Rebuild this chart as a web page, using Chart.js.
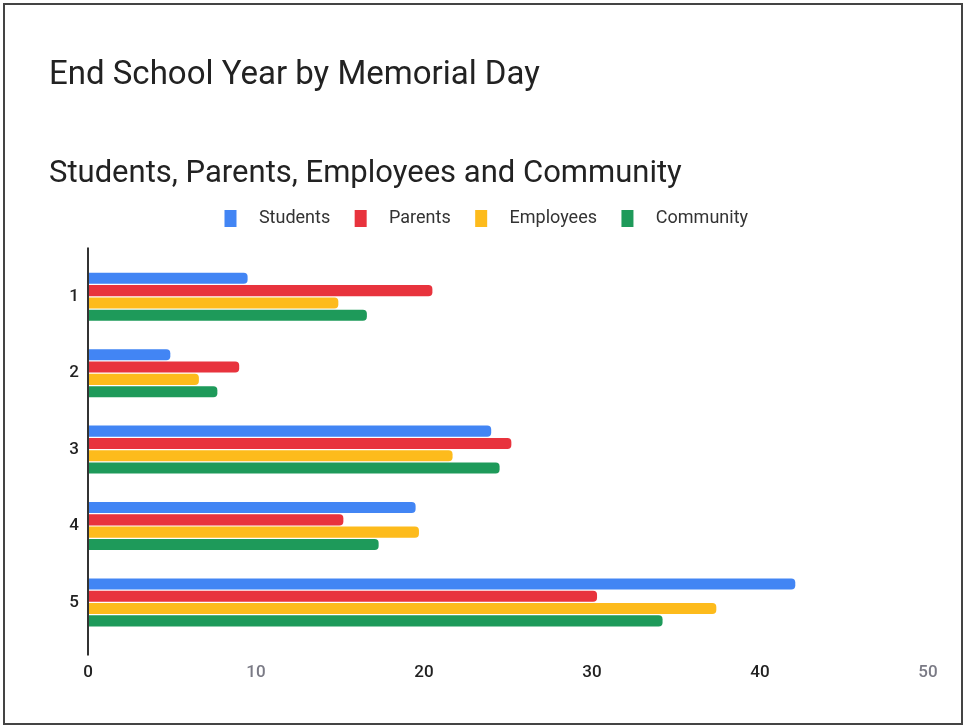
<!DOCTYPE html>
<html>
<head>
<meta charset="utf-8">
<script src="https://cdn.jsdelivr.net/npm/chart.js@4"></script>
<style>
	html, body { margin:0; padding:0; background:#fff; }
	#wrap { position:relative; width:965px; height:728px; }
	#frame { position:absolute; left:3px; top:3px; right:2px; bottom:3px; border:2px solid #444; pointer-events:none; }
</style>
</head>
<body>
<div id="wrap">
	<canvas id="myChart" width="965" height="728"></canvas>
	<div id="frame"></div>
</div>
<script>
var categories = ["1", "2", "3", "4", "5"];
var seriesNames = ["Students", "Parents", "Employees", "Community"];
var students  = [9.5, 4.9, 24.0, 19.5, 42.1];
var parents   = [20.5, 9.0, 25.2, 15.2, 30.3];
var employees = [14.9, 6.6, 21.7, 19.7, 37.4];
var community = [16.6, 7.7, 24.5, 17.3, 34.2];
var xTicks = [0, 10, 20, 30, 40, 50];
var colors = ['#4285f4', '#e8333d', '#fdbb1c', '#1e9a5a'];

// y axis line runs a bit past the plot area like in the original
var axisLine = {
	id:'axisLine',
	afterDraw:function(chart){
		var a = chart.chartArea, c = chart.ctx;
		c.save();
		c.strokeStyle = '#333';
		c.lineWidth = 2;
		c.beginPath();
		c.moveTo(a.left, a.top - 11);
		c.lineTo(a.left, a.bottom + 15);
		c.stroke();
		c.restore();
	}
};

// extra gap under the legend
var legendGap = {
	id:'legendGap',
	beforeUpdate:function(chart){
		var lg = chart.legend;
		if(lg && !lg._gap){
			var fit = lg.fit;
			lg.fit = function(){ fit.call(this); this.height += 21; };
			lg._gap = true;
		}
	}
};

var values = [students, parents, employees, community];
var datasets = seriesNames.map(function(name, i){
	return {
		label:name,
		data:values[i],
		backgroundColor:colors[i],
		borderRadius:4,
		barPercentage:0.9,
		categoryPercentage:0.645
	};
});

var ctx = document.getElementById('myChart').getContext('2d');
var chart = new Chart(ctx, {
	type:'bar',
	data:{ labels:categories, datasets:datasets },
	plugins:[axisLine, legendGap],
	options:{
		indexAxis:'y',
		responsive:false,
		animation:false,
		layout:{ padding:{ left:49, right:37, top:0, bottom:23 } },
		plugins:{
			title:{
				display:true,
				text:'End School Year by Memorial Day',
				align:'start',
				color:'#222',
				font:{ family:'Roboto', size:33, weight:'normal', lineHeight:1.2 },
				padding:{ top:56, bottom:40 }
			},
			subtitle:{
				display:true,
				text:'Students, Parents, Employees and Community',
				align:'start',
				color:'#222',
				font:{ family:'Roboto', size:31, weight:'normal', lineHeight:1 },
				padding:{ top:23, bottom:0 }
			},
			legend:{
				labels:{
					boxWidth:12,
					boxHeight:17,
					padding:20,
					color:'#333',
					font:{ family:'Roboto', size:18 },
					generateLabels:function(chart){
						var items = Chart.defaults.plugins.legend.labels.generateLabels(chart);
						items.forEach(function(it){ it.text = '   ' + it.text + ' '; it.lineWidth = 0; });
						return items;
					}
				}
			},
			tooltip:{ enabled:false }
		},
		scales:{
			x:{
				min:0,
				max:50,
				afterBuildTicks:function(s){ s.ticks = xTicks.map(function(v){ return {value:v}; }); },
				grid:{ display:false, drawTicks:false },
				border:{ display:false },
				ticks:{
					padding:22,
					font:{ family:'Roboto', size:17, weight:'500' },
					color:function(c){ return (c.tick.value == 10 || c.tick.value == 50) ? '#7a7a85' : '#222'; }
				}
			},
			y:{
				afterFit:function(s){ s.width = 39; },
				grid:{ display:false, drawTicks:false },
				border:{ display:false },
				ticks:{
					padding:9,
					color:'#222',
					font:{ family:'Roboto', size:17, weight:'500' }
				}
			}
		}
	}
});
</script>
</body>
</html>
